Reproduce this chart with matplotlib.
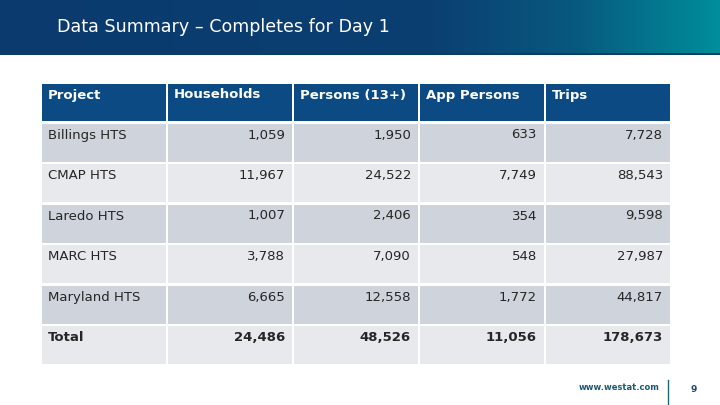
import numpy as np
import matplotlib
matplotlib.use("Agg")
import matplotlib.pyplot as plt
from matplotlib.patches import Rectangle
from matplotlib.colors import LinearSegmentedColormap

title = "Data Summary – Completes for Day 1"
columns = ["Project", "Households", "Persons (13+)", "App Persons", "Trips"]
projects = ["Billings HTS", "CMAP HTS", "Laredo HTS", "MARC HTS", "Maryland HTS", "Total"]
households = [1059, 11967, 1007, 3788, 6665, 24486]
persons = [1950, 24522, 2406, 7090, 12558, 48526]
app_persons = [633, 7749, 354, 548, 1772, 11056]
trips = [7728, 88543, 9598, 27987, 44817, 178673]
footer_url = "www.westat.com"
page_number = "9"

W, H = 720, 405
fig = plt.figure(figsize=(7.2, 4.05), dpi=100)
ax = fig.add_axes([0, 0, 1, 1])
ax.set_xlim(0, W)
ax.set_ylim(H, 0)
ax.axis("off")

# title bar gradient
cmap = LinearSegmentedColormap.from_list(
    "bar", [(0.0, "#0a3a6e"), (0.6, "#0b3f72"), (0.8, "#08597f"), (1.0, "#008e9b")])
grad = np.linspace(0, 1, 512).reshape(1, -1)
ax.imshow(grad, cmap=cmap, extent=[0, W, 54, 0], aspect="auto", zorder=0)
ax.add_patch(Rectangle((0, 53), W, 1.5, color="#0b3d5e", lw=0, zorder=1))
ax.text(57, 27, title, color="white", fontsize=12.6, va="center", ha="left",
        family="DejaVu Sans", zorder=2)

# table layout
x0, colw, gap = 42, 124, 2
y_head, head_h = 84, 37
row_top0, row_h, row_pitch = 123.5, 38, 40.5
header_color = "#0c4a84"
row_colors = ["#cfd3db", "#e8e9ed"]
text_color = "#262626"

for j, name in enumerate(columns):
    cx = x0 + j * (colw + gap)
    ax.add_patch(Rectangle((cx, y_head), colw, head_h, color=header_color, lw=0))
    ax.text(cx + 6, y_head + 11, name, color="white", fontsize=9.5, fontweight="bold",
            va="center", ha="left", family="DejaVu Sans")

values = [households, persons, app_persons, trips]
for i, proj in enumerate(projects):
    ry = row_top0 + i * row_pitch
    is_total = proj == "Total"
    weight = "bold" if is_total else "normal"
    for j in range(len(columns)):
        cx = x0 + j * (colw + gap)
        ax.add_patch(Rectangle((cx, ry), colw, row_h, color=row_colors[i % 2], lw=0))
    ax.text(x0 + 6, ry + 11.5, proj, color=text_color, fontsize=9.5, fontweight=weight,
            va="center", ha="left", family="DejaVu Sans")
    for j, series in enumerate(values, start=1):
        cx = x0 + j * (colw + gap)
        ax.text(cx + colw - 7, ry + 11.5, f"{series[i]:,}", color=text_color, fontsize=9.5,
                fontweight=weight, va="center", ha="right", family="DejaVu Sans")

# footer
ax.text(660, 388, footer_url, color="#1d5a72", fontsize=6, fontweight="bold",
        va="center", ha="right", family="DejaVu Sans")
ax.plot([668, 668], [380, 405], color="#1d6a72", lw=1)
ax.text(694, 389, page_number, color="#1d4a72", fontsize=6.5, fontweight="bold",
        va="center", ha="center", family="DejaVu Sans")

fig.savefig("out.png", dpi=100, facecolor="white")
